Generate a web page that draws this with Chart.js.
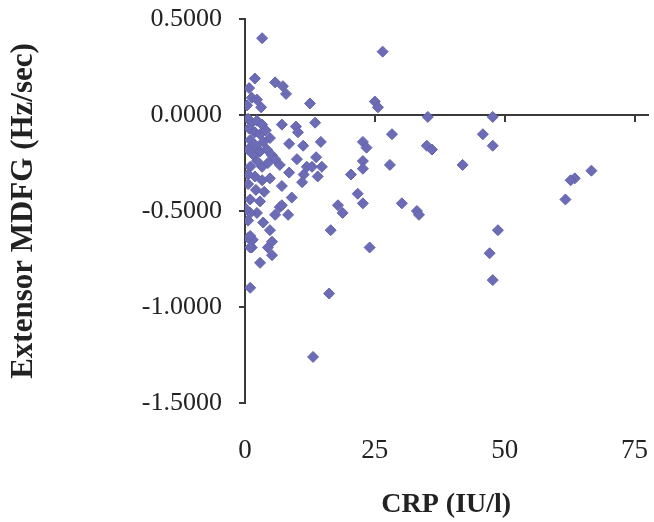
<!DOCTYPE html>
<html>
<head>
<meta charset="utf-8">
<script src="https://cdn.jsdelivr.net/npm/chart.js@4"></script>
<style>
  html, body { margin: 0; padding: 0; background: #ffffff; overflow: hidden; }
  #c { display: block; }
</style>
</head>
<body>
<canvas id="c" width="654" height="522"></canvas>
<script>
// CRP (IU/l) values
const crpValues = [
  3.3, 26.5, 1.9, 5.8, 7.3, 7.9, 0.8, 1.3, 2.3, 3.1, 12.5, 25.0, 25.6, 0.4,
  35.2, 47.7, 7.1, 9.8, 13.5, 10.2, 8.5, 11.2, 14.6, 10.0, 13.7, 14.8, 11.9,
  11.3, 11.0, 8.5, 7.1, 20.4, 22.7, 23.4, 22.7, 22.7, 28.3, 27.9, 21.7, 22.7,
  35.0, 36.0, 45.8, 47.7, 41.9, 17.9, 18.8, 30.2, 33.1, 33.5, 16.5, 48.7, 47.1,
  24.0, 47.7, 16.2, 13.1, 66.7, 63.5, 62.7, 61.7, 1.0, 2.9, 5.2, 4.4, 5.2, 1.3,
  1.5, 6.7, 9.0, 8.3, 5.8, 2.9, 2.3, 0.6, 3.5, 4.8, 0.6, 1.0, 3.3, 1.9, 12.9,
  14.0, 7.1, 1.0, 1.0, 1.0,
  0.6, 1.3, 2.3, 3.3, 0.8, 1.9, 2.9, 4.0, 1.0, 2.1, 3.5, 4.8, 0.6, 1.7, 2.9,
  4.2, 5.2, 2.3, 4.4, 5.8, 6.7, 0.6, 3.3, 4.8, 0.6, 2.1, 3.7, 1.0, 0.2
];
// Extensor MDFG (Hz/sec) values
const mdfgValues = [
  0.40, 0.33, 0.19, 0.17, 0.15, 0.11, 0.14, 0.09, 0.08, 0.04, 0.06, 0.07, 0.04, 0.05,
  -0.01, -0.01, -0.05, -0.06, -0.04, -0.09, -0.15, -0.16, -0.14, -0.23, -0.22, -0.27, -0.27,
  -0.31, -0.35, -0.30, -0.37, -0.31, -0.14, -0.17, -0.24, -0.28, -0.10, -0.26, -0.41, -0.46,
  -0.16, -0.18, -0.10, -0.16, -0.26, -0.47, -0.51, -0.46, -0.50, -0.52, -0.60, -0.60, -0.72,
  -0.69, -0.86, -0.93, -1.26, -0.29, -0.33, -0.34, -0.44, -0.90, -0.77, -0.73, -0.69, -0.66, -0.69,
  -0.65, -0.48, -0.43, -0.52, -0.52, -0.45, -0.51, -0.55, -0.56, -0.60, -0.64, -0.27, -0.27, -0.32, -0.27,
  -0.32, -0.47, -0.51, -0.63, -0.69,
  -0.02, -0.04, -0.03, -0.05, -0.07, -0.09, -0.10, -0.08, -0.13, -0.16, -0.14, -0.12, -0.18, -0.21, -0.19,
  -0.18, -0.21, -0.24, -0.25, -0.23, -0.26, -0.31, -0.34, -0.33, -0.36, -0.39, -0.40, -0.44, -0.49
];
const xTickValues = [0, 25, 50, 75];
const yTickValues = [-1.5, -1.0, -0.5, 0, 0.5];
const xTitle = 'CRP (IU/l)';
const yTitle = 'Extensor MDFG (Hz/sec)';

const points = crpValues.map((x, i) => ({ x: x, y: mdfgValues[i] }));
const axisColor = '#3a3a3a';
const serif = '"Liberation Serif", "Times New Roman", serif';
const X_MIN = 0, X_MAX = 77.5;

function noPad(s) { s.paddingLeft = 0; s.paddingRight = 0; s.paddingTop = 0; s.paddingBottom = 0; }

new Chart(document.getElementById('c'), {
  type: 'scatter',
  data: {
    datasets: [{
      data: points,
      xAxisID: 'x',
      yAxisID: 'y',
      pointStyle: 'rectRot',
      pointRadius: 5.5,
      pointHoverRadius: 5.5,
      backgroundColor: '#6c6cb6',
      borderColor: '#6464ae',
      borderWidth: 1
    }]
  },
  options: {
    responsive: false,
    animation: false,
    devicePixelRatio: 1,
    events: [],
    layout: { padding: { left: 0, top: 19, right: 0, bottom: 0 } },
    plugins: { legend: { display: false }, tooltip: { enabled: false } },
    scales: {
      x: {
        type: 'linear',
        position: 'bottom',
        min: X_MIN, max: X_MAX,
        afterBuildTicks: s => { s.ticks = xTickValues.map(v => ({ value: v })); },
        afterFit: s => { s.height = 119; noPad(s); },
        border: { display: false },
        grid: { display: false, drawTicks: false },
        ticks: { padding: 32, color: '#222', font: { family: serif, size: 27 }, maxRotation: 0 },
        title: { display: true, text: xTitle, color: '#222', padding: { top: 0, bottom: 0 },
                 font: { family: serif, size: 28, weight: 'bold' } }
      },
      x0: {
        type: 'linear',
        position: { y: 0 },
        min: X_MIN, max: X_MAX,
        afterBuildTicks: s => { s.ticks = xTickValues.map(v => ({ value: v })); },
        afterFit: s => { noPad(s); },
        border: { display: true, color: axisColor, width: 2 },
        grid: { drawOnChartArea: false, drawTicks: true, tickLength: 6, color: axisColor, lineWidth: 2 },
        ticks: { display: false }
      },
      y: {
        type: 'linear',
        position: 'left',
        min: -1.5, max: 0.5,
        afterBuildTicks: s => { s.ticks = yTickValues.map(v => ({ value: v })); },
        afterFit: s => { s.width = 245; noPad(s); },
        border: { display: true, color: axisColor, width: 2 },
        grid: { drawOnChartArea: false, drawTicks: true, tickLength: 6, color: axisColor, lineWidth: 2 },
        ticks: { padding: 17, color: '#222', font: { family: serif, size: 26 },
                 callback: v => Number(v).toFixed(4) },
        title: { display: true, text: yTitle, color: '#222', padding: { top: 5, bottom: 0 },
                 font: { family: serif, size: 31, weight: 'bold' } }
      }
    }
  }
});
</script>
</body>
</html>
